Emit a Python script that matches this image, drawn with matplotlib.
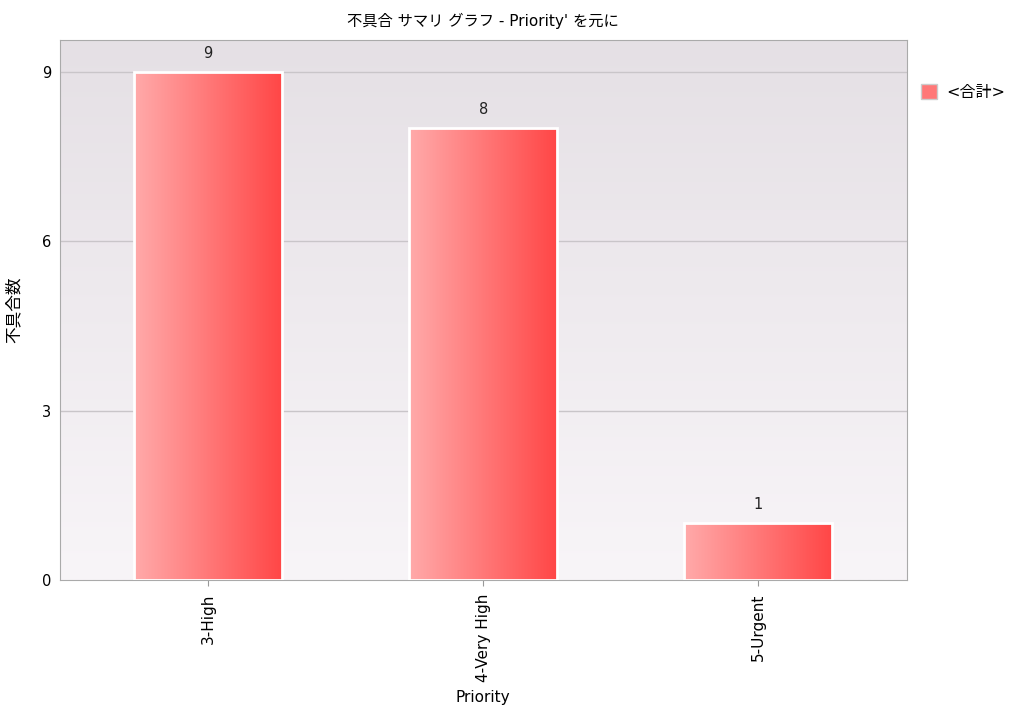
import numpy as np
import matplotlib
matplotlib.use("Agg")
import matplotlib.pyplot as plt
from matplotlib.colors import LinearSegmentedColormap
from matplotlib.patches import Patch

plt.rcParams['font.family'] = ['DejaVu Sans', 'Noto Sans CJK JP']

categories = ["3-High", "4-Very High", "5-Urgent"]
counts = [9, 8, 1]
yticks = [0, 3, 6, 9]

bar_cmap = LinearSegmentedColormap.from_list("bar", ["#ffaaaa", "#ff4646"])
bg_cmap = LinearSegmentedColormap.from_list("bg", ["#f8f5f8", "#e5e0e5"])

fig = plt.figure(figsize=(10.12, 7.08), dpi=100)
ax = fig.add_axes([0.059, 0.181, 0.837, 0.763])

x = np.arange(1, len(categories) + 1)

# background gradient
grad_v = np.linspace(0, 1, 256).reshape(-1, 1)
ax.imshow(grad_v, cmap=bg_cmap, aspect='auto', extent=[0, 1, 0, 1],
          transform=ax.transAxes, origin='lower', zorder=0)

for y in yticks[1:]:
    ax.axhline(y, color='#c9c5c9', linewidth=1, zorder=1)

bars = ax.bar(x, counts, width=0.54, color='none', edgecolor='white',
              linewidth=2, zorder=3)
grad_h = np.linspace(0, 1, 256).reshape(1, -1)
for b, val in zip(bars, counts):
    x0 = b.get_x()
    w = b.get_width()
    im = ax.imshow(grad_h, cmap=bar_cmap, aspect='auto',
                   extent=[x0, x0 + w, 0, val], zorder=2)
    im.set_clip_path(b)
    ax.text(x0 + w / 2, val + 0.2, str(val), ha='center', va='bottom',
            fontsize=10.5, color='#222222')

ax.set_xlim(0.46, 3.54)
ax.set_ylim(0, 9.57)
ax.set_xticks(x)
ax.set_xticklabels(categories, rotation=90, fontsize=11)
ax.set_yticks(yticks)
ax.tick_params(axis='y', length=0, labelsize=10.5, pad=6)
ax.tick_params(axis='x', length=4, color='#999999', labelsize=11, pad=6)
for s in ax.spines.values():
    s.set_color('#aaaaaa')

ax.set_xlabel("Priority", fontsize=11, labelpad=6)
ax.set_ylabel("不具合数", fontsize=12, labelpad=14)
ax.set_title("不具合 サマリ グラフ - Priority' を元に", fontsize=11, pad=10)

handle = Patch(facecolor='#ff7878', edgecolor='#cccccc')
ax.legend([handle], ["<合計>"], loc='upper left', bbox_to_anchor=(1.005, 0.935),
          frameon=False, fontsize=11.5, handlelength=1.0, handleheight=1.0,
          borderaxespad=0.2, handletextpad=0.6)

fig.savefig("out.png", dpi=100)
